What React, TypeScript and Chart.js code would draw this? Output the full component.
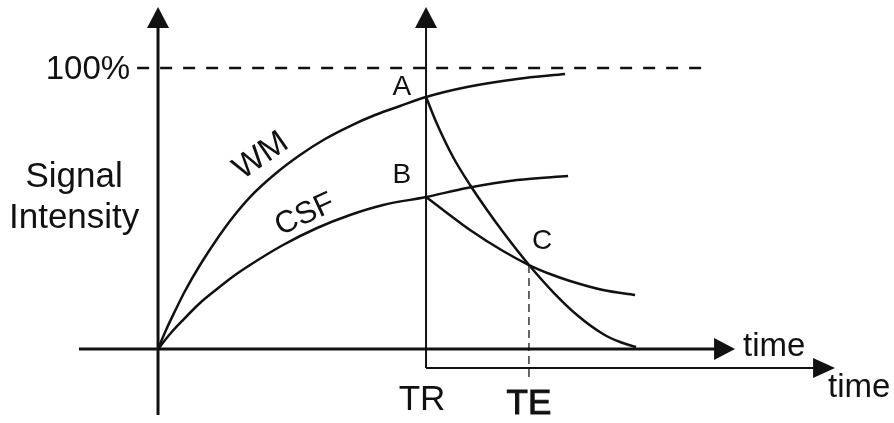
import React, { useEffect, useRef } from "react";
import { Chart, registerables } from "chart.js";

Chart.register(...registerables);

// ---- Data (time in arbitrary units, TR = 100; signal in % of maximum) ----
const TR = 100;
const TE = 138.4;
const FULL = 100;

const wmRiseTime = [0, 2.99, 6.34, 10.07, 15.67, 22.01, 27.99, 34.33, 43.66, 52.99, 62.31, 71.64, 80.97, 90.3, 100, 115.3, 133.96, 151.87];
const wmRiseSignal = [0, 6.76, 13.52, 20.64, 29.89, 39.15, 46.98, 54.09, 62.28, 69.04, 74.73, 79.36, 83.27, 86.48, 89.68, 93.24, 96.09, 97.86];

const csfRiseTime = [0, 4.48, 9.33, 15.67, 22.01, 27.99, 34.33, 46.64, 59.33, 71.64, 83.96, 100, 115.3, 133.96, 153.0];
const csfRiseSignal = [0, 5.34, 10.32, 16.37, 21.35, 25.8, 29.89, 37.01, 43.06, 47.69, 51.25, 54.09, 57.3, 60.14, 61.57];

const wmDecayTime = [100, 104.1, 110.07, 116.42, 122.76, 128.73, 138.43, 147.39, 156.34, 166.04, 172.39, 178.36];
const wmDecaySignal = [89.68, 80.07, 68.33, 58.36, 49.47, 41.64, 29.89, 20.28, 12.1, 5.34, 2.49, 0.71];

const csfDecayTime = [100, 107.84, 116.42, 128.73, 138.43, 146.27, 153.73, 166.04, 177.99];
const csfDecaySignal = [54.09, 48.4, 42.35, 34.88, 29.89, 26.69, 24.2, 21.0, 19.22];

// axes extents (data units)
const mainTimeRange = [-29.5, 215.3];
const mainSignalRange = [-23.5, 121.7];
const echoBaseline = -6.8;
const echoTimeRange = [TR, 252.6];
const echoSignalRange = [echoBaseline, 121.7];
const fullLineRange = [-7.8, 206];
const teLineBottom = -11.7;

// view window
const X_MIN = -58.96;
const X_MAX = 274.6;
const Y_MIN = -26.33;
const Y_MAX = 124.2;

const FONT = "'Liberation Sans', Arial, Helvetica, sans-serif";
const INK = "#111";

const toXY = (ts: number[], ss: number[]) => ts.map((t, i) => ({ x: t, y: ss[i] }));

const diagramPlugin = {
  id: "diagram",
  beforeDatasetsDraw(chart: any) {
    const { ctx, scales } = chart;
    const px = (t: number) => scales.x.getPixelForValue(t);
    const py = (v: number) => scales.y.getPixelForValue(v);
    const seg = (x1: number, y1: number, x2: number, y2: number) => {
      ctx.beginPath();
      ctx.moveTo(x1, y1);
      ctx.lineTo(x2, y2);
      ctx.stroke();
    };
    const arrowRight = (xt: number, yc: number, len: number, half: number) => {
      ctx.beginPath();
      ctx.moveTo(xt, yc);
      ctx.lineTo(xt - len, yc - half);
      ctx.lineTo(xt - len, yc + half);
      ctx.closePath();
      ctx.fill();
    };
    const arrowUp = (xc: number, yt: number, len: number, half: number) => {
      ctx.beginPath();
      ctx.moveTo(xc, yt);
      ctx.lineTo(xc - half, yt + len);
      ctx.lineTo(xc + half, yt + len);
      ctx.closePath();
      ctx.fill();
    };
    ctx.save();
    ctx.strokeStyle = INK;
    ctx.fillStyle = INK;
    ctx.lineCap = "butt";

    // 100% dashed line
    ctx.setLineDash([12, 11]);
    ctx.lineWidth = 2.5;
    seg(px(fullLineRange[0]), py(FULL), px(fullLineRange[1]), py(FULL));

    // TE dashed guide
    ctx.setLineDash([8, 5]);
    ctx.lineWidth = 1.6;
    ctx.strokeStyle = "#444";
    seg(px(TE), py(29.9), px(TE), py(teLineBottom));
    ctx.setLineDash([]);
    ctx.strokeStyle = INK;

    // main axes
    ctx.lineWidth = 3;
    seg(px(mainTimeRange[0]), py(0), px(mainTimeRange[1]) - 18, py(0));
    arrowRight(px(mainTimeRange[1]), py(0), 21, 11);
    seg(px(0), py(mainSignalRange[0]), px(0), py(mainSignalRange[1]) + 18);
    arrowUp(px(0), py(mainSignalRange[1]), 21, 11);

    // echo axes (thinner)
    ctx.lineWidth = 2;
    seg(px(TR), py(echoSignalRange[0]), px(TR), py(echoSignalRange[1]) + 18);
    arrowUp(px(TR), py(echoSignalRange[1]), 21, 11);
    seg(px(TR), py(echoBaseline), px(echoTimeRange[1]) - 18, py(echoBaseline));
    arrowRight(px(echoTimeRange[1]), py(echoBaseline), 22, 10);

    ctx.restore();
  },
  afterDatasetsDraw(chart: any) {
    const { ctx, scales } = chart;
    const px = (t: number) => scales.x.getPixelForValue(t);
    const py = (v: number) => scales.y.getPixelForValue(v);
    ctx.save();
    ctx.fillStyle = INK;
    ctx.strokeStyle = INK;
    const text = (s: string, t: number, v: number, size: number, align: CanvasTextAlign, base: CanvasTextBaseline, rot = 0, heavier = 0) => {
      ctx.save();
      ctx.font = `normal ${size}px ${FONT}`;
      ctx.textAlign = align;
      ctx.textBaseline = base;
      ctx.translate(px(t), py(v));
      if (rot) ctx.rotate((rot * Math.PI) / 180);
      ctx.fillText(s, 0, 0);
      if (heavier) {
        ctx.lineWidth = heavier;
        ctx.strokeText(s, 0, 0);
      }
      ctx.restore();
    };
    text("100%", -10.4, 99.3, 33, "right", "middle");
    text("Signal", -31.3, 57.7, 35, "center", "alphabetic");
    text("Intensity", -31.3, 43.1, 35, "center", "alphabetic");
    text("A", 91.0, 93.2, 28, "center", "middle");
    text("B", 91.0, 61.9, 28, "center", "middle");
    text("C", 143.3, 38.4, 28, "center", "middle");
    text("WM", 38.43, 68.68, 33, "center", "middle", -35);
    text("CSF", 54.85, 47.7, 31, "center", "middle", -25);
    text("TR", 98.5, -18.1, 35, "center", "middle");
    text("TE", TE, -19.6, 35, "center", "middle", 0, 1);
    text("time", 218.3, -2.5, 33, "left", "alphabetic");
    text("time", 250.0, -17.1, 33, "left", "alphabetic");
    ctx.restore();
  },
};

const lineStyle = {
  borderColor: INK,
  borderWidth: 2.5,
  pointRadius: 0,
  fill: false,
  cubicInterpolationMode: "monotone" as const,
};

export default function App() {
  const ref = useRef<HTMLCanvasElement | null>(null);
  useEffect(() => {
    if (!ref.current) return;
    const chart = new Chart(ref.current, {
      type: "scatter",
      data: {
        datasets: [
          { label: "WM", data: toXY(wmRiseTime, wmRiseSignal), showLine: true, ...lineStyle },
          { label: "CSF", data: toXY(csfRiseTime, csfRiseSignal), showLine: true, ...lineStyle },
          { label: "WM decay", data: toXY(wmDecayTime, wmDecaySignal), showLine: true, ...lineStyle },
          { label: "CSF decay", data: toXY(csfDecayTime, csfDecaySignal), showLine: true, ...lineStyle },
        ],
      },
      options: {
        responsive: false,
        animation: false,
        layout: { padding: 0 },
        plugins: { legend: { display: false }, tooltip: { enabled: false } },
        events: [],
        scales: {
          x: { type: "linear", min: X_MIN, max: X_MAX, display: false },
          y: { type: "linear", min: Y_MIN, max: Y_MAX, display: false },
        },
      },
      plugins: [diagramPlugin],
    });
    return () => chart.destroy();
  }, []);
  return (
    <div style={{ position: "absolute", left: 0, top: 0, width: 894, height: 423, background: "#fff" }}>
      <canvas ref={ref} width={894} height={423} style={{ display: "block" }} />
    </div>
  );
}
